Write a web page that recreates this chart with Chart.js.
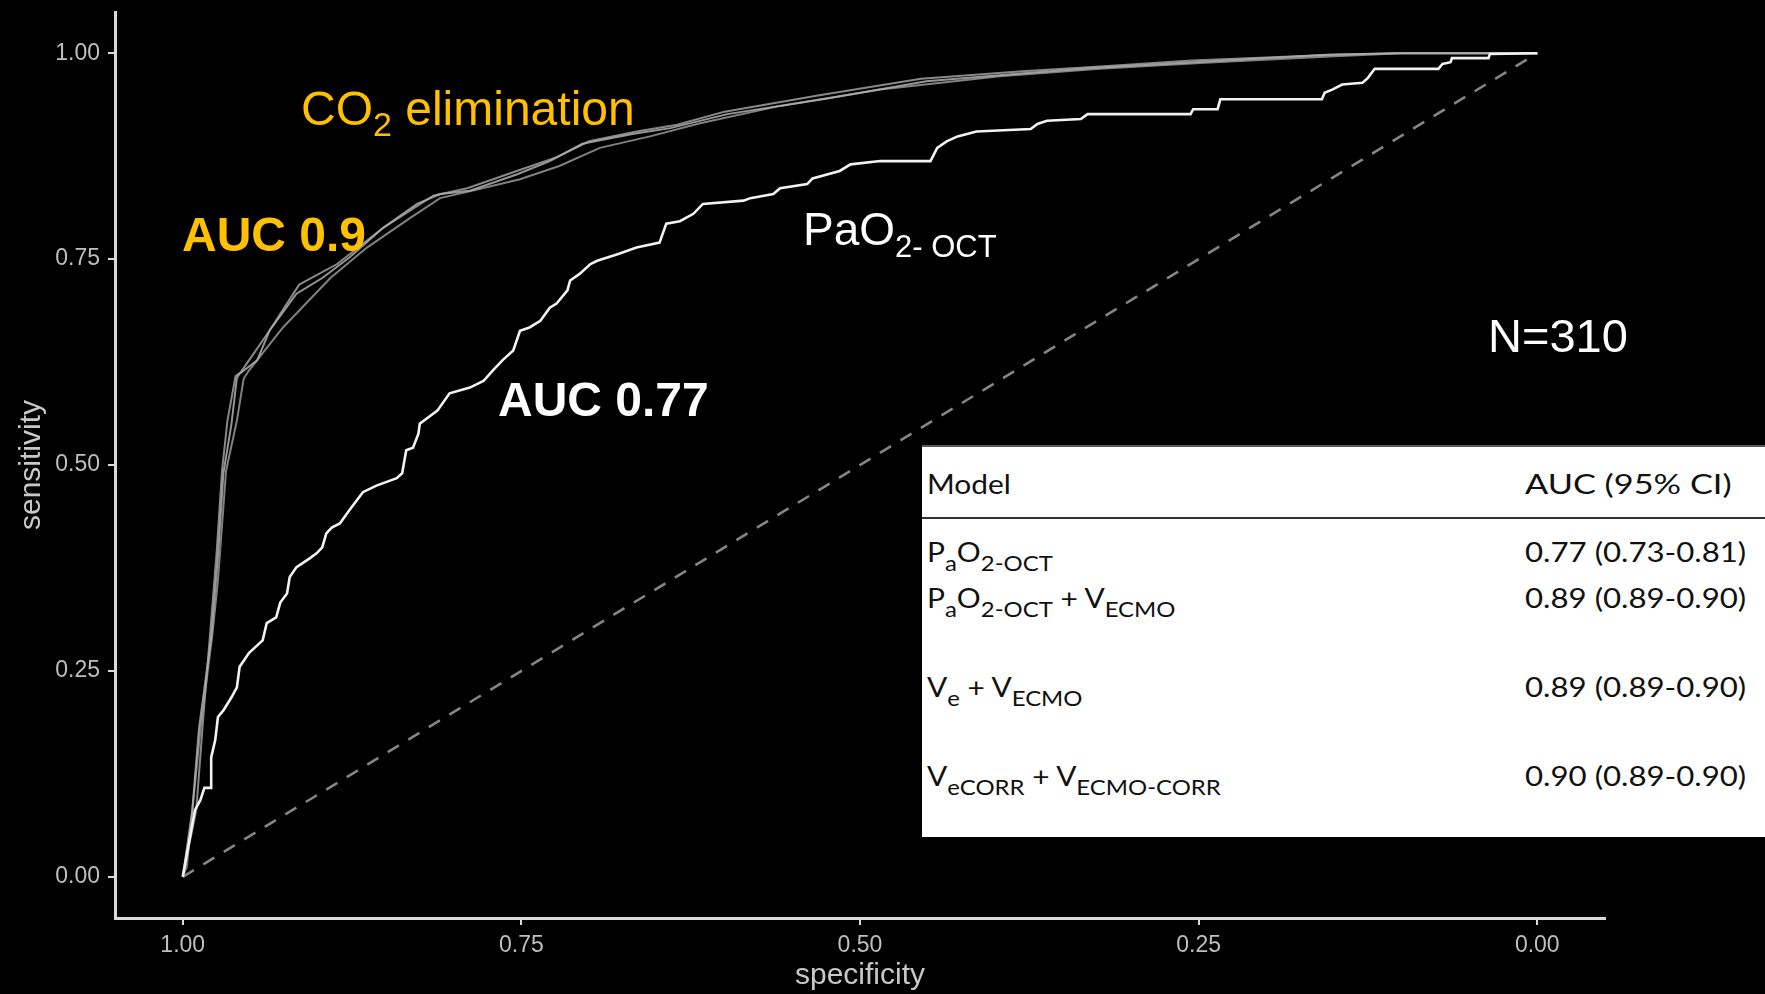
<!DOCTYPE html>
<html lang="en">
<head>
<meta charset="UTF-8">
<title>ROC - CO2 elimination</title>
<script src="https://cdn.jsdelivr.net/npm/chart.js"></script>
<style>
    body {
        margin: 0;
        background: #000;
    }
    #wrap {
        position: relative;
        width: 1765px;
        height: 994px;
        overflow: hidden;
        background: #000;
    }
    #tabela {
        position: absolute;
        left: 922px;
        top: 445px;
        width: 843px;
        height: 392px;
        box-sizing: border-box;
        background: #fff;
        border-top: 2px solid #5a5a5a;
        font-family: Lato, "Open Sans", sans-serif;
        font-size: 26px;
        line-height: 26px;
        color: #111;
    }
    .linha {
        position: absolute;
        left: 0;
        right: 0;
        height: 26px;
    }
    .modelo {
        position: absolute;
        left: 5px;
        white-space: nowrap;
        transform: scaleX(1.15);
        transform-origin: left;
    }
    .auc {
        position: absolute;
        left: 603px;
        white-space: nowrap;
        transform: scaleX(1.2);
        transform-origin: left;
    }
    .auc.topo {
        transform: scaleX(1.32);
    }
    .s {
        font-size: 0.8em;
        position: relative;
        top: 0.42em;
    }
    .regua {
        position: absolute;
        left: 0;
        right: 0;
        top: 70px;
        height: 2px;
        background: #333;
    }
</style>
</head>
<body>

<div id="wrap">
    <canvas id="grafico"></canvas>

    <div id="tabela">
        <div class="linha" style="top:24px">
            <span class="modelo">Model</span>
            <span class="auc topo">AUC (95% CI)</span>
        </div>
        <div class="regua"></div>
        <div class="linha" style="top:92px">
            <span class="modelo">P<span class="s">a</span>O<span class="s">2-OCT</span></span>
            <span class="auc">0.77 (0.73-0.81)</span>
        </div>
        <div class="linha" style="top:138px">
            <span class="modelo">P<span class="s">a</span>O<span class="s">2-OCT</span> + V<span class="s">ECMO</span></span>
            <span class="auc">0.89 (0.89-0.90)</span>
        </div>
        <div class="linha" style="top:227px">
            <span class="modelo">V<span class="s">e</span> + V<span class="s">ECMO</span></span>
            <span class="auc">0.89 (0.89-0.90)</span>
        </div>
        <div class="linha" style="top:316px">
            <span class="modelo">V<span class="s">eCORR</span> + V<span class="s">ECMO-CORR</span></span>
            <span class="auc">0.90 (0.89-0.90)</span>
        </div>
    </div>
</div>

<script>
// eixos
const xTicks = [1, 0.75, 0.5, 0.25, 0];
const yTicks = [0, 0.25, 0.5, 0.75, 1];

// PaO2-OCT (AUC 0.77) - curva branca em degraus
const specPaO2 = [1, 0.991, 0.987, 0.984, 0.979, 0.979, 0.976, 0.974, 0.970, 0.964, 0.960, 0.958, 0.951, 0.941, 0.938, 0.931, 0.928, 0.923, 0.921, 0.916,
    0.906, 0.901, 0.897, 0.894, 0.890, 0.884, 0.877, 0.867, 0.857, 0.842, 0.838, 0.835, 0.830, 0.826, 0.825, 0.812, 0.803, 0.788, 0.778, 0.771,
    0.764, 0.756, 0.751, 0.744, 0.736, 0.729, 0.724, 0.716, 0.714, 0.707, 0.699, 0.694, 0.679, 0.665, 0.648, 0.643, 0.633, 0.623, 0.616, 0.586,
    0.581, 0.564, 0.559, 0.539, 0.535, 0.515, 0.507, 0.485, 0.448, 0.443, 0.436, 0.428, 0.414, 0.374, 0.369, 0.362, 0.337, 0.332, 0.256, 0.254,
    0.236, 0.234, 0.159, 0.157, 0.151, 0.144, 0.129, 0.125, 0.120, 0.073, 0.070, 0.064, 0.063, 0.036, 0.035, 0];
const sensPaO2 = [0, 0.081, 0.093, 0.108, 0.108, 0.145, 0.166, 0.194, 0.202, 0.218, 0.230, 0.255, 0.272, 0.287, 0.308, 0.315, 0.333, 0.344, 0.364, 0.376,
    0.387, 0.393, 0.400, 0.417, 0.424, 0.429, 0.445, 0.467, 0.475, 0.484, 0.490, 0.518, 0.521, 0.538, 0.550, 0.566, 0.587, 0.594, 0.602, 0.615,
    0.627, 0.639, 0.663, 0.667, 0.675, 0.691, 0.696, 0.712, 0.724, 0.732, 0.744, 0.748, 0.756, 0.764, 0.770, 0.793, 0.796, 0.805, 0.817, 0.821,
    0.824, 0.829, 0.836, 0.841, 0.848, 0.857, 0.865, 0.869, 0.869, 0.885, 0.893, 0.899, 0.905, 0.908, 0.914, 0.918, 0.920, 0.926, 0.926, 0.932,
    0.932, 0.944, 0.944, 0.952, 0.956, 0.962, 0.964, 0.970, 0.981, 0.981, 0.987, 0.989, 0.994, 0.994, 0.999, 1];

// PaO2-OCT + VECMO
const specPaO2Vecmo = [1, 0.993, 0.988, 0.979, 0.974, 0.970, 0.964, 0.960, 0.958, 0.945, 0.936, 0.916, 0.897, 0.877, 0.852, 0.827, 0.810, 0.788,
    0.753, 0.729, 0.705, 0.668, 0.640, 0.598, 0.524, 0.451, 0.377, 0.328, 0.264, 0.155, 0.106, 0];
const sensPaO2Vecmo = [0, 0.080, 0.180, 0.290, 0.390, 0.490, 0.550, 0.606, 0.611, 0.627, 0.663, 0.708, 0.727, 0.752, 0.788, 0.817, 0.829, 0.833,
    0.853, 0.869, 0.890, 0.902, 0.909, 0.926, 0.945, 0.966, 0.976, 0.982, 0.988, 0.998, 1, 1];

// Ve + VECMO
const specVeVecmo = [1, 0.990, 0.985, 0.980, 0.975, 0.971, 0.967, 0.961, 0.957, 0.936, 0.914, 0.886, 0.852, 0.815, 0.790, 0.755, 0.725, 0.700,
    0.665, 0.635, 0.600, 0.530, 0.455, 0.380, 0.320, 0.255, 0.150, 0.100, 0];
const sensVeVecmo = [0, 0.081, 0.190, 0.291, 0.393, 0.493, 0.554, 0.608, 0.613, 0.663, 0.719, 0.744, 0.788, 0.827, 0.836, 0.856, 0.873, 0.893,
    0.905, 0.913, 0.929, 0.949, 0.969, 0.978, 0.984, 0.991, 0.998, 1, 1];

// VeCORR + VECMO-CORR
const specVeCorr = [1, 0.997, 0.987, 0.978, 0.974, 0.968, 0.960, 0.955, 0.951, 0.926, 0.891, 0.864, 0.832, 0.810, 0.781, 0.751, 0.722, 0.692,
    0.655, 0.618, 0.559, 0.485, 0.397, 0.323, 0.249, 0.153, 0.101, 0];
const sensVeCorr = [0, 0.012, 0.178, 0.296, 0.360, 0.493, 0.554, 0.605, 0.615, 0.667, 0.727, 0.764, 0.800, 0.824, 0.835, 0.847, 0.863, 0.885,
    0.899, 0.915, 0.936, 0.956, 0.972, 0.981, 0.988, 0.996, 1, 1];

// linha de referencia
const specRef = [1, 0];
const sensRef = [0, 1];

const fonte = '"Liberation Sans", Arial, Helvetica, sans-serif';
Chart.defaults.font.family = fonte;

function pontos(spec, sens) {
    return spec.map((s, i) => ({ x: s, y: sens[i] }));
}

function escrever(ctx, x, y, cor, partes) {
    ctx.fillStyle = cor;
    partes.forEach(p => {
        const [texto, tam, dy, peso] = p;
        ctx.font = `${peso || 'normal'} ${tam}px ${fonte}`;
        ctx.fillText(texto, x, y + (dy || 0));
        x += ctx.measureText(texto).width;
    });
}

const anotacoes = {
    id: 'anotacoes',
    afterDraw(chart) {
        const ctx = chart.ctx;
        ctx.save();
        ctx.textBaseline = 'alphabetic';
        ctx.textAlign = 'left';
        escrever(ctx, 301, 125, '#FFC000', [['CO', 48], ['2', 34, 11], [' elimination', 48]]);
        escrever(ctx, 182, 251, '#FFC000', [['AUC 0.9', 48, 0, 'bold']]);
        escrever(ctx, 498, 416, '#ffffff', [['AUC 0.77', 48, 0, 'bold']]);
        escrever(ctx, 803, 245, '#ffffff', [['PaO', 46], ['2- OCT', 31, 12]]);
        escrever(ctx, 1488, 352, '#ffffff', [['N=310', 47]]);
        ctx.restore();
    }
};

// sem folga automatica das escalas
function semFolga(ax) {
    ax.paddingTop = 0;
    ax.paddingBottom = 0;
    ax.paddingLeft = 0;
    ax.paddingRight = 0;
}

const corEixo = '#d9d9d9';

const ctx = document.getElementById('grafico').getContext('2d');
new Chart(ctx, {
    type: 'line',
    data: {
        datasets: [
            {
                label: 'PaO2-OCT',
                data: pontos(specPaO2, sensPaO2),
                borderColor: '#f2f2f2',
                borderWidth: 2.6
            },
            {
                label: 'PaO2-OCT + VECMO',
                data: pontos(specPaO2Vecmo, sensPaO2Vecmo),
                borderColor: 'rgba(175,175,175,0.85)',
                borderWidth: 2
            },
            {
                label: 'Ve + VECMO',
                data: pontos(specVeVecmo, sensVeVecmo),
                borderColor: 'rgba(160,160,160,0.85)',
                borderWidth: 2
            },
            {
                label: 'VeCORR + VECMO-CORR',
                data: pontos(specVeCorr, sensVeCorr),
                borderColor: 'rgba(150,150,150,0.85)',
                borderWidth: 2
            },
            {
                label: 'referencia',
                data: pontos(specRef, sensRef),
                borderColor: '#858585',
                borderWidth: 2.6,
                borderDash: [13, 11]
            }
        ]
    },
    options: {
        responsive: true,
        maintainAspectRatio: false,
        animation: false,
        parsing: false,
        elements: {
            point: { radius: 0 },
            line: { tension: 0, fill: false }
        },
        layout: {
            padding: { top: 12, right: 160, bottom: 0, left: 0 }
        },
        plugins: {
            legend: { display: false },
            tooltip: { enabled: false }
        },
        scales: {
            x: {
                type: 'linear',
                reverse: true,
                min: -0.05,
                max: 1.05,
                afterBuildTicks: ax => { ax.ticks = xTicks.map(v => ({ value: v })); },
                afterFit: ax => { ax.height = 76; semFolga(ax); },
                ticks: {
                    color: '#bfbfbf',
                    font: { size: 23 },
                    padding: 7,
                    maxRotation: 0,
                    autoSkip: false,
                    callback: v => Number(v).toFixed(2)
                },
                grid: {
                    display: true,
                    drawOnChartArea: false,
                    drawTicks: true,
                    tickLength: 7,
                    color: corEixo,
                    lineWidth: 2
                },
                border: { display: true, color: corEixo, width: 3 },
                title: {
                    display: true,
                    text: 'specificity',
                    color: '#c8c8c8',
                    font: { size: 30 },
                    padding: { top: 0, bottom: 0 }
                }
            },
            y: {
                type: 'linear',
                min: -0.05,
                max: 1.05,
                afterBuildTicks: ax => { ax.ticks = yTicks.map(v => ({ value: v })); },
                afterFit: ax => { ax.width = 115; semFolga(ax); },
                ticks: {
                    color: '#bfbfbf',
                    font: { size: 23 },
                    padding: 8,
                    autoSkip: false,
                    callback: v => Number(v).toFixed(2)
                },
                grid: {
                    display: true,
                    drawOnChartArea: false,
                    drawTicks: true,
                    tickLength: 7,
                    color: corEixo,
                    lineWidth: 2
                },
                border: { display: true, color: corEixo, width: 3 },
                title: {
                    display: true,
                    text: 'sensitivity',
                    color: '#c8c8c8',
                    font: { size: 30 },
                    padding: { top: 14, bottom: 0 }
                }
            }
        }
    },
    plugins: [anotacoes]
});
</script>

</body>
</html>
